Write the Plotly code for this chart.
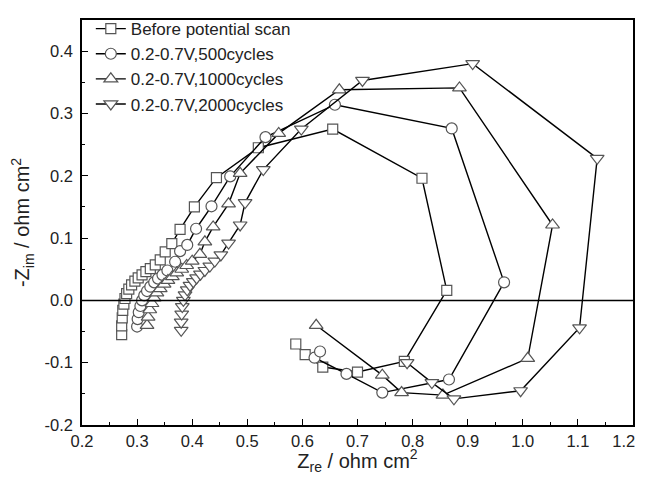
import plotly.graph_objects as go

# Before potential scan (squares)
before_x = [0.272,0.272,0.273,0.274,0.276,0.278,0.281,0.285,0.290,0.296,0.302,0.309,0.316,0.324,0.333,0.342,0.351,0.363,0.378,0.404,0.444,0.520,0.655,0.817,0.862,0.785,0.700,0.637,0.605,0.588]
before_y = [-0.055,-0.041,-0.028,-0.016,-0.006,0.003,0.011,0.018,0.025,0.031,0.036,0.041,0.046,0.051,0.057,0.065,0.078,0.091,0.114,0.150,0.197,0.245,0.275,0.196,0.016,-0.098,-0.115,-0.107,-0.087,-0.070]

# 500 cycles (circles)
c500_x = [0.300,0.301,0.303,0.306,0.309,0.313,0.318,0.324,0.331,0.338,0.346,0.355,0.369,0.378,0.391,0.407,0.435,0.469,0.533,0.659,0.871,0.966,0.866,0.745,0.680,0.622,0.632]
c500_y = [-0.042,-0.030,-0.019,-0.009,0.000,0.008,0.015,0.022,0.029,0.035,0.041,0.048,0.062,0.079,0.089,0.115,0.151,0.199,0.262,0.314,0.276,0.029,-0.127,-0.148,-0.118,-0.092,-0.082]

# 1000 cycles (up triangles)
c1000_x = [0.318,0.320,0.323,0.327,0.331,0.336,0.342,0.349,0.356,0.364,0.372,0.381,0.390,0.400,0.414,0.423,0.438,0.466,0.487,0.557,0.667,0.885,1.054,1.009,0.855,0.780,0.745,0.625]
c1000_y = [-0.040,-0.027,-0.015,-0.005,0.004,0.012,0.019,0.026,0.032,0.038,0.044,0.050,0.056,0.063,0.074,0.094,0.118,0.155,0.204,0.268,0.338,0.341,0.121,-0.093,-0.152,-0.148,-0.120,-0.040]

# 2000 cycles (down triangles)
c2000_x = [0.380,0.380,0.381,0.382,0.384,0.387,0.391,0.396,0.402,0.408,0.415,0.423,0.432,0.441,0.452,0.466,0.487,0.496,0.529,0.598,0.709,0.909,1.135,1.103,0.996,0.875,0.835,0.790]
c2000_y = [-0.048,-0.035,-0.022,-0.010,0.000,0.009,0.017,0.024,0.030,0.036,0.042,0.048,0.055,0.063,0.073,0.092,0.121,0.157,0.210,0.275,0.353,0.380,0.228,-0.044,-0.145,-0.158,-0.132,-0.100]

names = ["Before potential scan", "0.2-0.7V,500cycles", "0.2-0.7V,1000cycles", "0.2-0.7V,2000cycles"]

x_ticks = [0.2,0.3,0.4,0.5,0.6,0.7,0.8,0.9,1.0,1.1,1.2]
x_labels = ["0.2","0.3","0.4","0.5","0.6","0.7","0.8","0.9","1.0","1.1","1.2"]
y_ticks = [-0.2,-0.1,0.0,0.1,0.2,0.3,0.4]
y_labels = ["-0.2","-0.1","0.0","0.1","0.2","0.3","0.4"]

# keep the last x label inside the page edge (pad with non-breaking spaces)
x_ticktext = x_labels[:-1] + [x_labels[-1] + "\u00a0" * 4]

series = [
    (before_x, before_y, "square", 10),
    (c500_x, c500_y, "circle", 11),
    (c1000_x, c1000_y, "triangle-up", 12),
    (c2000_x, c2000_y, "triangle-down", 12),
]

fig = go.Figure()
for (xs, ys, sym, sz), nm in zip(series, names):
    fig.add_trace(go.Scatter(
        x=xs, y=ys, mode="lines+markers", name=nm,
        line=dict(color="black", width=1.4),
        marker=dict(symbol=sym, size=sz, color="white",
                    line=dict(color="#555555", width=1.2)),
    ))

fig.add_hline(y=0, line=dict(color="black", width=1.5))

font_family = "Liberation Sans, Arial, sans-serif"
fig.update_layout(
    width=629, height=467,
    margin=dict(l=74, r=4, t=3, b=50),
    paper_bgcolor="white", plot_bgcolor="white",
    font=dict(family=font_family, size=16.5, color="#222222"),
    showlegend=True,
    legend=dict(x=0.016, y=1.022, xanchor="left", yanchor="top",
                bgcolor="rgba(0,0,0,0)", font=dict(size=17),
                tracegroupgap=0, itemwidth=30),
    xaxis=dict(range=[0.2, 1.2], tickmode="array", tickvals=x_ticks, ticktext=x_ticktext,
               ticks="inside", ticklen=6, tickwidth=1.2, tickcolor="black",
               ticklabeloverflow="allow", automargin=False,
               minor=dict(ticks="inside", ticklen=3, tickcolor="black", dtick=0.05, tick0=0.2),
               showline=True, linecolor="black", linewidth=1.5, mirror=True,
               showgrid=False, zeroline=False,
               title=dict(text="Z<sub>re</sub> / ohm cm<sup>2</sup>", font=dict(size=20), standoff=12)),
    yaxis=dict(range=[-0.2, 0.45], tickmode="array", tickvals=y_ticks, ticktext=y_labels,
               ticks="inside", ticklen=6, tickwidth=1.2, tickcolor="black",
               ticklabeloverflow="allow", automargin=False, ticklabelstandoff=4,
               minor=dict(ticks="inside", ticklen=3, tickcolor="black", dtick=0.05, tick0=0.0),
               showline=True, linecolor="black", linewidth=1.5, mirror=True,
               showgrid=False, zeroline=False,
               title=dict(text="-Z<sub>im</sub> / ohm cm<sup>2</sup>", font=dict(size=20), standoff=13)),
)

fig.write_html("out.html")
